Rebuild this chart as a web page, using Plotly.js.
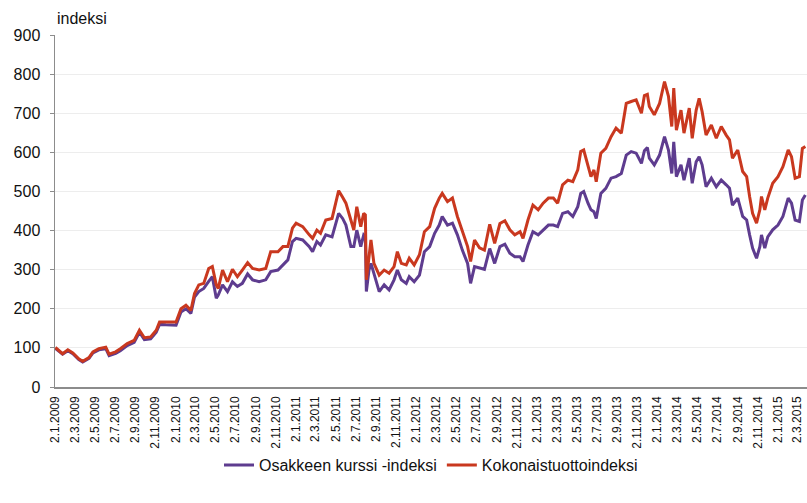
<!DOCTYPE html>
<html>
<head>
<meta charset="utf-8">
<script src="https://cdn.plot.ly/plotly-3.0.1.min.js"></script>
<style>
html,body{margin:0;padding:0;background:#fff;}
#chart{width:807px;height:503px;}
</style>
</head>
<body>
<div id="chart"></div>
<script>
// Dates of the read-off points
const dates = [
 '2009-01-02','2009-01-11','2009-01-24','2009-02-09','2009-02-24','2009-03-14','2009-03-26','2009-04-14','2009-04-26','2009-05-14','2009-06-04','2009-06-14','2009-07-04','2009-07-18','2009-08-08','2009-08-29','2009-09-14','2009-09-29','2009-10-18','2009-11-04','2009-11-14','2009-12-03',
 '2010-01-03','2010-01-18','2010-02-02','2010-02-17','2010-02-28','2010-03-13','2010-03-28','2010-04-12','2010-04-23','2010-05-05','2010-05-11','2010-05-24','2010-06-08','2010-06-23','2010-07-08','2010-07-23','2010-08-08','2010-08-23','2010-09-12','2010-10-02','2010-10-17','2010-11-08','2010-11-23','2010-12-08','2010-12-22',
 '2011-01-02','2011-01-22','2011-02-11','2011-02-21','2011-03-06','2011-03-17','2011-04-02','2011-04-21','2011-05-02','2011-05-11','2011-05-23','2011-06-02','2011-06-17','2011-06-26','2011-07-05','2011-07-17','2011-07-26','2011-07-31','2011-08-03','2011-08-11','2011-08-17','2011-08-26','2011-09-11','2011-09-26','2011-10-11','2011-10-26','2011-11-05','2011-11-17','2011-12-02','2011-12-11','2011-12-26',
 '2012-01-11','2012-01-26','2012-02-11','2012-02-26','2012-03-11','2012-03-20','2012-04-05','2012-04-20','2012-05-05','2012-05-20','2012-06-05','2012-06-14','2012-06-26','2012-07-11','2012-07-26','2012-08-11','2012-08-26','2012-09-11','2012-09-26','2012-10-11','2012-10-26','2012-11-11','2012-11-20','2012-12-05','2012-12-20',
 '2013-01-05','2013-01-20','2013-02-05','2013-02-20','2013-03-05','2013-03-20','2013-04-05','2013-04-20','2013-05-05','2013-05-14','2013-05-23','2013-06-05','2013-06-14','2013-06-23','2013-06-30','2013-07-14','2013-07-29','2013-08-14','2013-08-29','2013-09-14','2013-09-29','2013-10-14','2013-10-29','2013-11-14','2013-11-23','2013-12-02','2013-12-08','2013-12-23',
 '2014-01-08','2014-01-23','2014-02-04','2014-02-14','2014-02-20','2014-02-28','2014-03-14','2014-03-23','2014-04-08','2014-04-17','2014-04-29','2014-05-08','2014-05-17','2014-05-29','2014-06-14','2014-06-29','2014-07-14','2014-07-29','2014-08-08','2014-08-17','2014-09-02','2014-09-17','2014-09-29','2014-10-08','2014-10-17','2014-10-29','2014-11-08','2014-11-13','2014-11-23','2014-12-02','2014-12-17',
 '2015-01-02','2015-01-17','2015-02-02','2015-02-12','2015-02-23','2015-03-08','2015-03-17','2015-03-26'
];

// Osakkeen kurssi -indeksi
const kurssi = [
 99,93,84,93,85,70,64,73,87,95,98,80,86,93,106,114,140,121,123,140,160,159,
 158,192,200,188,230,244,252,270,282,227,235,261,244,269,257,265,289,274,269,274,295,299,312,325,372,
 380,376,359,346,372,363,389,384,419,444,431,414,359,359,401,359,389,385,244,299,316,291,244,261,248,274,299,274,265,282,269,
 286,346,359,393,414,436,414,419,389,350,316,265,308,305,301,354,316,359,365,342,333,333,321,363,397,
 389,402,414,414,410,444,448,436,461,495,500,470,453,448,431,495,508,534,538,546,593,602,598,572,604,612,585,568,
 593,640,606,546,627,538,568,529,585,521,576,589,568,512,534,512,529,517,508,465,483,436,427,389,355,329,359,389,355,384,402,
 414,436,483,470,427,423,478,491
];

// Kokonaistuottoindeksi
const kokonais = [
 101,95,85,95,87,72,66,75,90,98,102,84,90,98,111,119,145,126,128,145,166,166,
 166,200,209,196,239,261,265,303,308,261,252,299,269,301,282,299,318,303,299,303,346,346,359,359,406,
 419,410,389,380,401,393,427,431,470,502,485,470,427,401,461,410,444,440,274,333,376,316,286,299,291,308,346,316,312,329,312,
 338,397,410,457,483,495,474,483,436,401,359,321,376,356,350,416,367,418,425,402,389,397,380,427,465,
 453,470,483,483,470,517,529,525,555,602,606,563,538,555,525,598,610,640,662,649,725,730,734,700,745,748,717,696,
 725,781,743,666,764,657,708,649,713,636,708,738,704,644,670,636,666,644,632,585,606,551,538,487,444,419,453,487,453,483,521,
 538,563,606,589,534,538,610,615
];

const seriesNames = ['Osakkeen kurssi -indeksi', 'Kokonaistuottoindeksi'];

const tickDates = [
 '2009-01-02','2009-03-02','2009-05-02','2009-07-02','2009-09-02','2009-11-02',
 '2010-01-02','2010-03-02','2010-05-02','2010-07-02','2010-09-02','2010-11-02',
 '2011-01-02','2011-03-02','2011-05-02','2011-07-02','2011-09-02','2011-11-02',
 '2012-01-02','2012-03-02','2012-05-02','2012-07-02','2012-09-02','2012-11-02',
 '2013-01-02','2013-03-02','2013-05-02','2013-07-02','2013-09-02','2013-11-02',
 '2014-01-02','2014-03-02','2014-05-02','2014-07-02','2014-09-02','2014-11-02',
 '2015-01-02','2015-03-02'
];
const tickLabels = [
 '2.1.2009','2.3.2009','2.5.2009','2.7.2009','2.9.2009','2.11.2009',
 '2.1.2010','2.3.2010','2.5.2010','2.7.2010','2.9.2010','2.11.2010',
 '2.1.2011','2.3.2011','2.5.2011','2.7.2011','2.9.2011','2.11.2011',
 '2.1.2012','2.3.2012','2.5.2012','2.7.2012','2.9.2012','2.11.2012',
 '2.1.2013','2.3.2013','2.5.2013','2.7.2013','2.9.2013','2.11.2013',
 '2.1.2014','2.3.2014','2.5.2014','2.7.2014','2.9.2014','2.11.2014',
 '2.1.2015','2.3.2015'
];

const font = 'Liberation Sans, Arial, sans-serif';

const traces = [
 {x: dates, y: kurssi, name: seriesNames[0], type: 'scatter', mode: 'lines',
  line: {color: '#5E3C8F', width: 3}},
 {x: dates, y: kokonais, name: seriesNames[1], type: 'scatter', mode: 'lines',
  line: {color: '#C9381F', width: 3}}
];

const layout = {
 width: 807, height: 503,
 margin: {l: 55, r: 0, t: 35, b: 116},
 paper_bgcolor: '#fff', plot_bgcolor: '#fff',
 font: {family: font, color: '#111'},
 showlegend: true,
 legend: {orientation: 'h', x: 0.5, xanchor: 'center', y: -0.222, yanchor: 'middle',
  font: {family: font, size: 16, color: '#111'}, itemwidth: 30, traceorder: 'normal'},
 xaxis: {
  type: 'date', range: ['2009-01-01', '2015-03-31'],
  tickmode: 'array', tickvals: tickDates, ticktext: tickLabels,
  tickangle: -90, tickfont: {family: font, size: 12, color: '#111'},
  showgrid: false, zeroline: false, showline: true, linecolor: '#8c8c8c', linewidth: 1.5,
  ticks: '', ticklabelstandoff: 3
 },
 yaxis: {
  range: [0, 900], dtick: 100, tick0: 0,
  tickfont: {family: font, size: 16, color: '#111'},
  showgrid: true, gridcolor: '#ededed', gridwidth: 1,
  zeroline: false, showline: true, linecolor: '#8c8c8c', linewidth: 1.5,
  ticks: 'outside', ticklen: 4, tickcolor: '#8c8c8c', ticklabelstandoff: 6
 },
 annotations: [
  {text: 'indeksi', xref: 'paper', yref: 'paper', x: 0, y: 1, xanchor: 'left', yanchor: 'bottom',
   yshift: 6, showarrow: false, font: {family: font, size: 16, color: '#111'}}
 ]
};

Plotly.newPlot('chart', traces, layout, {displayModeBar: false, staticPlot: true});
</script>
</body>
</html>
